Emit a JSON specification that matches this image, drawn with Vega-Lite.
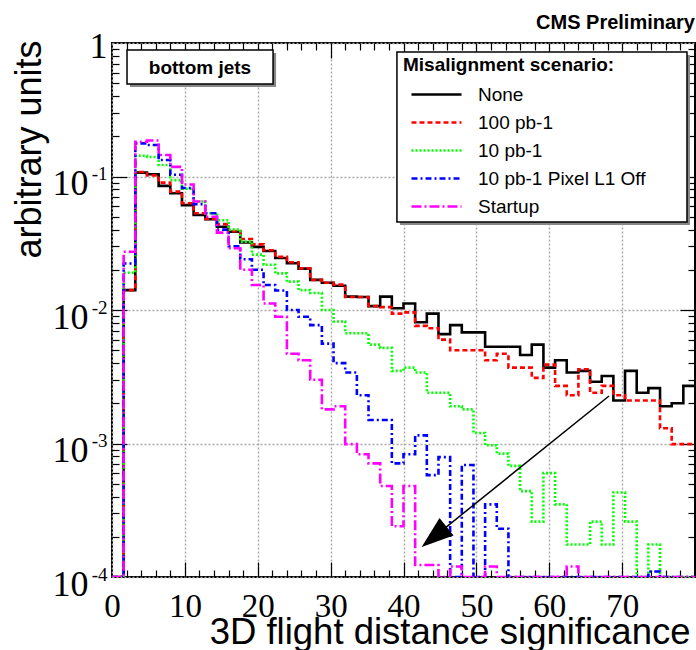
{
"$schema": "https://vega.github.io/schema/vega-lite/v6.json",
"width": 583, "height": 534,
"autosize": {"type": "none"},
"padding": {"left": 112, "top": 43, "right": 1, "bottom": 73},
"background": "white",
"title": {"text": "CMS Preliminary", "anchor": "end", "frame": "group", "orient": "top", "fontSize": 20, "fontWeight": "bold", "font": "Liberation Sans", "color": "black", "baseline": "alphabetic", "offset": 0, "dy": 21},
"config": {"view": {"stroke": "black", "strokeWidth": 2}, "font": "Liberation Sans"},
"data": {"values": [
{"s":"None","x":0,"v":0.0001},{"s":"None","x":1.6,"v":0.0141},{"s":"None","x":3.2,"v":0.107},{"s":"None","x":4.8,"v":0.104},{"s":"None","x":6.4,"v":0.085},{"s":"None","x":8,"v":0.075},{"s":"None","x":9.6,"v":0.061},{"s":"None","x":11.2,"v":0.0515},{"s":"None","x":12.8,"v":0.0478},{"s":"None","x":14.4,"v":0.042},{"s":"None","x":16,"v":0.0386},{"s":"None","x":17.6,"v":0.032},{"s":"None","x":19.2,"v":0.0297},{"s":"None","x":20.8,"v":0.0277},{"s":"None","x":22.4,"v":0.0245},{"s":"None","x":24,"v":0.0224},{"s":"None","x":25.6,"v":0.0204},{"s":"None","x":27.2,"v":0.0168},{"s":"None","x":28.8,"v":0.016},{"s":"None","x":30.4,"v":0.0152},{"s":"None","x":32,"v":0.0126},{"s":"None","x":33.6,"v":0.0125},{"s":"None","x":35.2,"v":0.0107},{"s":"None","x":36.8,"v":0.0126},{"s":"None","x":38.4,"v":0.0103},{"s":"None","x":40,"v":0.0112},{"s":"None","x":41.6,"v":0.0081},{"s":"None","x":43.2,"v":0.0094},{"s":"None","x":44.8,"v":0.0066},{"s":"None","x":46.4,"v":0.0077},{"s":"None","x":48,"v":0.0068},{"s":"None","x":49.6,"v":0.0068},{"s":"None","x":51.2,"v":0.0053},{"s":"None","x":52.8,"v":0.0053},{"s":"None","x":54.4,"v":0.0053},{"s":"None","x":56,"v":0.0046},{"s":"None","x":57.6,"v":0.0055},{"s":"None","x":59.2,"v":0.0037},{"s":"None","x":60.8,"v":0.0042},{"s":"None","x":62.4,"v":0.0034},{"s":"None","x":64,"v":0.0035},{"s":"None","x":65.6,"v":0.0029},{"s":"None","x":67.2,"v":0.0032},{"s":"None","x":68.8,"v":0.0021},{"s":"None","x":70.4,"v":0.0035},{"s":"None","x":72,"v":0.0024},{"s":"None","x":73.6,"v":0.0026},{"s":"None","x":75.2,"v":0.0019},{"s":"None","x":76.8,"v":0.002},{"s":"None","x":78.4,"v":0.0027},{"s":"None","x":80,"v":0.0027},
{"s":"100 pb-1","x":0,"v":0.0001},{"s":"100 pb-1","x":1.6,"v":0.0141},{"s":"100 pb-1","x":3.2,"v":0.108},{"s":"100 pb-1","x":4.8,"v":0.102},{"s":"100 pb-1","x":6.4,"v":0.09},{"s":"100 pb-1","x":8,"v":0.077},{"s":"100 pb-1","x":9.6,"v":0.063},{"s":"100 pb-1","x":11.2,"v":0.053},{"s":"100 pb-1","x":12.8,"v":0.048},{"s":"100 pb-1","x":14.4,"v":0.044},{"s":"100 pb-1","x":16,"v":0.039},{"s":"100 pb-1","x":17.6,"v":0.034},{"s":"100 pb-1","x":19.2,"v":0.031},{"s":"100 pb-1","x":20.8,"v":0.028},{"s":"100 pb-1","x":22.4,"v":0.025},{"s":"100 pb-1","x":24,"v":0.0228},{"s":"100 pb-1","x":25.6,"v":0.0205},{"s":"100 pb-1","x":27.2,"v":0.0168},{"s":"100 pb-1","x":28.8,"v":0.016},{"s":"100 pb-1","x":30.4,"v":0.0155},{"s":"100 pb-1","x":32,"v":0.0125},{"s":"100 pb-1","x":33.6,"v":0.0125},{"s":"100 pb-1","x":35.2,"v":0.0107},{"s":"100 pb-1","x":36.8,"v":0.0105},{"s":"100 pb-1","x":38.4,"v":0.0094},{"s":"100 pb-1","x":40,"v":0.0096},{"s":"100 pb-1","x":41.6,"v":0.0076},{"s":"100 pb-1","x":43.2,"v":0.0073},{"s":"100 pb-1","x":44.8,"v":0.006},{"s":"100 pb-1","x":46.4,"v":0.005},{"s":"100 pb-1","x":48,"v":0.005},{"s":"100 pb-1","x":49.6,"v":0.005},{"s":"100 pb-1","x":51.2,"v":0.0042},{"s":"100 pb-1","x":52.8,"v":0.0047},{"s":"100 pb-1","x":54.4,"v":0.0037},{"s":"100 pb-1","x":56,"v":0.0037},{"s":"100 pb-1","x":57.6,"v":0.0031},{"s":"100 pb-1","x":59.2,"v":0.0039},{"s":"100 pb-1","x":60.8,"v":0.0027},{"s":"100 pb-1","x":62.4,"v":0.0023},{"s":"100 pb-1","x":64,"v":0.0036},{"s":"100 pb-1","x":65.6,"v":0.0024},{"s":"100 pb-1","x":67.2,"v":0.0027},{"s":"100 pb-1","x":68.8,"v":0.0023},{"s":"100 pb-1","x":70.4,"v":0.0021},{"s":"100 pb-1","x":72,"v":0.0021},{"s":"100 pb-1","x":73.6,"v":0.0021},{"s":"100 pb-1","x":75.2,"v":0.0013},{"s":"100 pb-1","x":76.8,"v":0.00099},{"s":"100 pb-1","x":78.4,"v":0.00099},{"s":"100 pb-1","x":80,"v":0.00099},
{"s":"10 pb-1","x":0,"v":0.0001},{"s":"10 pb-1","x":1.6,"v":0.019},{"s":"10 pb-1","x":3.2,"v":0.143},{"s":"10 pb-1","x":4.8,"v":0.14},{"s":"10 pb-1","x":6.4,"v":0.122},{"s":"10 pb-1","x":8,"v":0.094},{"s":"10 pb-1","x":9.6,"v":0.081},{"s":"10 pb-1","x":11.2,"v":0.065},{"s":"10 pb-1","x":12.8,"v":0.053},{"s":"10 pb-1","x":14.4,"v":0.047},{"s":"10 pb-1","x":16,"v":0.04},{"s":"10 pb-1","x":17.6,"v":0.0325},{"s":"10 pb-1","x":19.2,"v":0.026},{"s":"10 pb-1","x":20.8,"v":0.0218},{"s":"10 pb-1","x":22.4,"v":0.0188},{"s":"10 pb-1","x":24,"v":0.0163},{"s":"10 pb-1","x":25.6,"v":0.0141},{"s":"10 pb-1","x":27.2,"v":0.0134},{"s":"10 pb-1","x":28.8,"v":0.01},{"s":"10 pb-1","x":30.4,"v":0.0082},{"s":"10 pb-1","x":32,"v":0.0067},{"s":"10 pb-1","x":33.6,"v":0.0067},{"s":"10 pb-1","x":35.2,"v":0.0055},{"s":"10 pb-1","x":36.8,"v":0.0052},{"s":"10 pb-1","x":38.4,"v":0.0035},{"s":"10 pb-1","x":40,"v":0.0037},{"s":"10 pb-1","x":41.6,"v":0.0034},{"s":"10 pb-1","x":43.2,"v":0.0024},{"s":"10 pb-1","x":44.8,"v":0.0024},{"s":"10 pb-1","x":46.4,"v":0.0019},{"s":"10 pb-1","x":48,"v":0.0018},{"s":"10 pb-1","x":49.6,"v":0.0012},{"s":"10 pb-1","x":51.2,"v":0.00097},{"s":"10 pb-1","x":52.8,"v":0.00084},{"s":"10 pb-1","x":54.4,"v":0.00068},{"s":"10 pb-1","x":56,"v":0.00044},{"s":"10 pb-1","x":57.6,"v":0.00026},{"s":"10 pb-1","x":59.2,"v":0.0006},{"s":"10 pb-1","x":60.8,"v":0.00035},{"s":"10 pb-1","x":62.4,"v":0.000175},{"s":"10 pb-1","x":64,"v":0.000175},{"s":"10 pb-1","x":65.6,"v":0.00026},{"s":"10 pb-1","x":67.2,"v":0.000175},{"s":"10 pb-1","x":68.8,"v":0.00043},{"s":"10 pb-1","x":70.4,"v":0.00026},{"s":"10 pb-1","x":72,"v":0.0001},{"s":"10 pb-1","x":73.6,"v":0.000175},{"s":"10 pb-1","x":75.2,"v":0.0001},{"s":"10 pb-1","x":76.8,"v":0.0001},{"s":"10 pb-1","x":78.4,"v":0.0001},{"s":"10 pb-1","x":80,"v":0.0001},
{"s":"10 pb-1 Pixel L1 Off","x":0,"v":0.0001},{"s":"10 pb-1 Pixel L1 Off","x":1.6,"v":0.0223},{"s":"10 pb-1 Pixel L1 Off","x":3.2,"v":0.177},{"s":"10 pb-1 Pixel L1 Off","x":4.8,"v":0.172},{"s":"10 pb-1 Pixel L1 Off","x":6.4,"v":0.133},{"s":"10 pb-1 Pixel L1 Off","x":8,"v":0.103},{"s":"10 pb-1 Pixel L1 Off","x":9.6,"v":0.082},{"s":"10 pb-1 Pixel L1 Off","x":11.2,"v":0.062},{"s":"10 pb-1 Pixel L1 Off","x":12.8,"v":0.053},{"s":"10 pb-1 Pixel L1 Off","x":14.4,"v":0.04},{"s":"10 pb-1 Pixel L1 Off","x":16,"v":0.03},{"s":"10 pb-1 Pixel L1 Off","x":17.6,"v":0.024},{"s":"10 pb-1 Pixel L1 Off","x":19.2,"v":0.02},{"s":"10 pb-1 Pixel L1 Off","x":20.8,"v":0.0154},{"s":"10 pb-1 Pixel L1 Off","x":22.4,"v":0.014},{"s":"10 pb-1 Pixel L1 Off","x":24,"v":0.01},{"s":"10 pb-1 Pixel L1 Off","x":25.6,"v":0.0089},{"s":"10 pb-1 Pixel L1 Off","x":27.2,"v":0.0077},{"s":"10 pb-1 Pixel L1 Off","x":28.8,"v":0.0056},{"s":"10 pb-1 Pixel L1 Off","x":30.4,"v":0.004},{"s":"10 pb-1 Pixel L1 Off","x":32,"v":0.0034},{"s":"10 pb-1 Pixel L1 Off","x":33.6,"v":0.0023},{"s":"10 pb-1 Pixel L1 Off","x":35.2,"v":0.0015},{"s":"10 pb-1 Pixel L1 Off","x":36.8,"v":0.0015},{"s":"10 pb-1 Pixel L1 Off","x":38.4,"v":0.00071},{"s":"10 pb-1 Pixel L1 Off","x":40,"v":0.00083},{"s":"10 pb-1 Pixel L1 Off","x":41.6,"v":0.00115},{"s":"10 pb-1 Pixel L1 Off","x":43.2,"v":0.00058},{"s":"10 pb-1 Pixel L1 Off","x":44.8,"v":0.00079},{"s":"10 pb-1 Pixel L1 Off","x":46.4,"v":0.0001},{"s":"10 pb-1 Pixel L1 Off","x":48,"v":0.00069},{"s":"10 pb-1 Pixel L1 Off","x":49.6,"v":0.0001},{"s":"10 pb-1 Pixel L1 Off","x":51.2,"v":0.00035},{"s":"10 pb-1 Pixel L1 Off","x":52.8,"v":0.00023},{"s":"10 pb-1 Pixel L1 Off","x":54.4,"v":0.0001},{"s":"10 pb-1 Pixel L1 Off","x":56,"v":0.0001},{"s":"10 pb-1 Pixel L1 Off","x":57.6,"v":0.0001},{"s":"10 pb-1 Pixel L1 Off","x":59.2,"v":0.0001},{"s":"10 pb-1 Pixel L1 Off","x":60.8,"v":0.0001},{"s":"10 pb-1 Pixel L1 Off","x":62.4,"v":0.0001},{"s":"10 pb-1 Pixel L1 Off","x":64,"v":0.0001},{"s":"10 pb-1 Pixel L1 Off","x":65.6,"v":0.0001},{"s":"10 pb-1 Pixel L1 Off","x":67.2,"v":0.0001},{"s":"10 pb-1 Pixel L1 Off","x":68.8,"v":0.0001},{"s":"10 pb-1 Pixel L1 Off","x":70.4,"v":0.0001},{"s":"10 pb-1 Pixel L1 Off","x":72,"v":0.0001},{"s":"10 pb-1 Pixel L1 Off","x":73.6,"v":0.00011},{"s":"10 pb-1 Pixel L1 Off","x":75.2,"v":0.0001},{"s":"10 pb-1 Pixel L1 Off","x":76.8,"v":0.0001},{"s":"10 pb-1 Pixel L1 Off","x":78.4,"v":0.0001},{"s":"10 pb-1 Pixel L1 Off","x":80,"v":0.0001},
{"s":"Startup","x":0,"v":0.0001},{"s":"Startup","x":1.6,"v":0.0273},{"s":"Startup","x":3.2,"v":0.182},{"s":"Startup","x":4.8,"v":0.186},{"s":"Startup","x":6.4,"v":0.145},{"s":"Startup","x":8,"v":0.118},{"s":"Startup","x":9.6,"v":0.087},{"s":"Startup","x":11.2,"v":0.065},{"s":"Startup","x":12.8,"v":0.05},{"s":"Startup","x":14.4,"v":0.038},{"s":"Startup","x":16,"v":0.029},{"s":"Startup","x":17.6,"v":0.02},{"s":"Startup","x":19.2,"v":0.0154},{"s":"Startup","x":20.8,"v":0.0112},{"s":"Startup","x":22.4,"v":0.0089},{"s":"Startup","x":24,"v":0.0047},{"s":"Startup","x":25.6,"v":0.0042},{"s":"Startup","x":27.2,"v":0.003},{"s":"Startup","x":28.8,"v":0.0018},{"s":"Startup","x":30.4,"v":0.0019},{"s":"Startup","x":32,"v":0.00099},{"s":"Startup","x":33.6,"v":0.00083},{"s":"Startup","x":35.2,"v":0.00071},{"s":"Startup","x":36.8,"v":0.00048},{"s":"Startup","x":38.4,"v":0.00024},{"s":"Startup","x":40,"v":0.00048},{"s":"Startup","x":41.6,"v":0.000123},{"s":"Startup","x":43.2,"v":0.000123},{"s":"Startup","x":44.8,"v":0.0001},{"s":"Startup","x":46.4,"v":0.00012},{"s":"Startup","x":48,"v":0.0001},{"s":"Startup","x":49.6,"v":0.0001},{"s":"Startup","x":51.2,"v":0.00012},{"s":"Startup","x":52.8,"v":0.0001},{"s":"Startup","x":54.4,"v":0.0001},{"s":"Startup","x":56,"v":0.0001},{"s":"Startup","x":57.6,"v":0.0001},{"s":"Startup","x":59.2,"v":0.0001},{"s":"Startup","x":60.8,"v":0.0001},{"s":"Startup","x":62.4,"v":0.00012},{"s":"Startup","x":64,"v":0.0001},{"s":"Startup","x":65.6,"v":0.0001},{"s":"Startup","x":67.2,"v":0.0001},{"s":"Startup","x":68.8,"v":0.0001},{"s":"Startup","x":70.4,"v":0.0001},{"s":"Startup","x":72,"v":0.0001},{"s":"Startup","x":73.6,"v":0.0001},{"s":"Startup","x":75.2,"v":0.0001},{"s":"Startup","x":76.8,"v":0.0001},{"s":"Startup","x":78.4,"v":0.0001},{"s":"Startup","x":80,"v":0.0001}
]},
"resolve": {"axis": {"x": "independent", "y": "independent"}},
"layer": [
{
"mark": {"type": "line", "interpolate": "step-after", "strokeWidth": 2.6, "clip": true},
"encoding": {
"x": {"field": "x", "type": "quantitative", "scale": {"domain": [0, 80], "nice": false, "zero": false},
 "axis": {"orient": "bottom", "values": [0,10,20,30,40,50,60,70], "ticks": false, "tickSize": 0, "domain": false, "grid": true, "gridColor": "#aaaaaa", "gridDash": [2,2], "gridWidth": 1.5, "labelFont": "Liberation Sans Narrow", "labelFontSize": 33, "labelColor": "black", "labelBaseline": "alphabetic", "labelPadding": 39, "labelFlush": false, "labelOverlap": false, "title": "3D flight distance significance", "titleFont": "Liberation Sans", "titleFontSize": 36.5, "titleFontWeight": "normal", "titleColor": "black", "titleAlign": "right", "titleAnchor": "end", "titleBaseline": "alphabetic", "titleX": 578, "titleY": 66}},
"y": {"field": "v", "type": "quantitative", "scale": {"type": "log", "domain": [0.0001, 1], "nice": false},
 "axis": {"orient": "left", "values": [0.0001,0.001,0.01,0.1,1], "ticks": false, "tickSize": 0, "domain": false, "grid": true, "gridColor": "#aaaaaa", "gridDash": [2,2], "gridWidth": 1.5, "labelExpr": "datum.value >= 1 ? '' : '10'", "labelFont": "Liberation Sans Narrow", "labelFontSize": 36, "labelColor": "black", "labelBaseline": "middle", "labelAlign": "right", "labelPadding": 24, "labelOffset": 7, "labelFlush": false, "labelOverlap": false, "title": "arbitrary units", "titleFont": "Liberation Sans", "titleFontSize": 36, "titleFontWeight": "normal", "titleColor": "black", "titleAngle": -90, "titleAlign": "right", "titleBaseline": "alphabetic", "titleX": -72, "titleY": -3}},
"color": {"field": "s", "type": "nominal", "scale": {"domain": ["None","100 pb-1","10 pb-1","10 pb-1 Pixel L1 Off","Startup"], "range": ["#000000","#ff0000","#00ff00","#0000ff","#ff00ff"]},
 "legend": {"orient": "none", "legendX": 291, "legendY": 13, "title": "Misalignment scenario:", "titleFont": "Liberation Sans", "titleFontSize": 19, "titleFontWeight": "bold", "titleColor": "black", "titlePadding": 10, "titleLimit": 600, "labelLimit": 600, "labelFont": "Liberation Sans", "labelFontSize": 19, "labelColor": "black", "labelOffset": 52, "symbolType": "M-1,0H9", "symbolSize": 100, "symbolStrokeWidth": 2.5, "symbolOffset": 4, "rowPadding": 8, "padding": 0}},
"strokeDash": {"field": "s", "type": "nominal", "scale": {"domain": ["None","100 pb-1","10 pb-1","10 pb-1 Pixel L1 Off","Startup"], "range": [[1,0],[5,3],[2,2],[6,3,2,3],[10,3,2,3]]},
 "legend": {"orient": "none", "legendX": 291, "legendY": 13, "title": "Misalignment scenario:", "titleFont": "Liberation Sans", "titleFontSize": 19, "titleFontWeight": "bold", "titleColor": "black", "titlePadding": 10, "titleLimit": 600, "labelLimit": 600, "labelFont": "Liberation Sans", "labelFontSize": 19, "labelColor": "black", "labelOffset": 52, "symbolType": "M-1,0H9", "symbolSize": 100, "symbolStrokeWidth": 2.5, "symbolOffset": 4, "rowPadding": 8, "padding": 0}}
}
},
{
"data": {"values": [{}]},
"mark": {"type": "rect", "fill": "#888888", "xOffset": 3, "x2Offset": 3, "yOffset": 3, "y2Offset": 3},
"encoding": {
"x": {"datum": 39.1, "type": "quantitative", "axis": {"orient": "bottom", "values": [2,4,6,8,12,14,16,18,22,24,26,28,32,34,36,38,42,44,46,48,52,54,56,58,62,64,66,68,72,74,76,78], "labels": false, "domain": false, "grid": false, "ticks": true, "tickSize": -7, "tickColor": "black", "tickWidth": 1.2, "title": null}},
"x2": {"datum": 78.9},
"y": {"datum": 0.856, "type": "quantitative", "axis": {"orient": "left", "values": [0.0002,0.0003,0.0004,0.0005,0.0006,0.0007,0.0008,0.0009,0.002,0.003,0.004,0.005,0.006,0.007,0.008,0.009,0.02,0.03,0.04,0.05,0.06,0.07,0.08,0.09,0.2,0.3,0.4,0.5,0.6,0.7,0.8,0.9], "labels": false, "domain": false, "grid": false, "ticks": true, "tickSize": -7, "tickColor": "black", "tickWidth": 1.2, "title": null}},
"y2": {"datum": 0.0456}
}
},
{
"data": {"values": [{}]},
"mark": {"type": "rect", "fill": "white", "stroke": "black", "strokeWidth": 1.5},
"encoding": {
"x": {"datum": 39.1, "type": "quantitative", "axis": {"orient": "bottom", "values": [10,20,30,40,50,60,70], "labels": false, "domain": false, "grid": false, "ticks": true, "tickSize": -15, "tickColor": "black", "tickWidth": 1.2, "title": null}},
"x2": {"datum": 78.9},
"y": {"datum": 0.856, "type": "quantitative", "axis": {"orient": "left", "values": [0.001,0.01,0.1], "labels": false, "domain": false, "grid": false, "ticks": true, "tickSize": -15, "tickColor": "black", "tickWidth": 1.2, "title": null}},
"y2": {"datum": 0.0456}
}
},
{
"data": {"values": [{}]},
"mark": {"type": "rect", "fill": "#888888", "xOffset": 3, "x2Offset": 3, "yOffset": 3, "y2Offset": 3},
"encoding": {
"x": {"datum": 2.06, "type": "quantitative", "axis": {"orient": "top", "values": [2,4,6,8,12,14,16,18,22,24,26,28,32,34,36,38,42,44,46,48,52,54,56,58,62,64,66,68,72,74,76,78], "labels": false, "domain": false, "grid": false, "ticks": true, "tickSize": -7, "tickColor": "black", "tickWidth": 1.2, "title": null}},
"x2": {"datum": 22.1},
"y": {"datum": 0.886, "type": "quantitative", "axis": {"orient": "right", "values": [0.0002,0.0003,0.0004,0.0005,0.0006,0.0007,0.0008,0.0009,0.002,0.003,0.004,0.005,0.006,0.007,0.008,0.009,0.02,0.03,0.04,0.05,0.06,0.07,0.08,0.09,0.2,0.3,0.4,0.5,0.6,0.7,0.8,0.9], "labels": false, "domain": false, "grid": false, "ticks": true, "tickSize": -7, "tickColor": "black", "tickWidth": 1.2, "title": null}},
"y2": {"datum": 0.493}
}
},
{
"data": {"values": [{}]},
"mark": {"type": "rect", "fill": "white", "stroke": "black", "strokeWidth": 1.5},
"encoding": {
"x": {"datum": 2.06, "type": "quantitative", "axis": {"orient": "top", "values": [10,20,30,40,50,60,70], "labels": false, "domain": false, "grid": false, "ticks": true, "tickSize": -15, "tickColor": "black", "tickWidth": 1.2, "title": null}},
"x2": {"datum": 22.1},
"y": {"datum": 0.886, "type": "quantitative", "axis": {"orient": "right", "values": [0.001,0.01,0.1], "labels": false, "domain": false, "grid": false, "ticks": true, "tickSize": -15, "tickColor": "black", "tickWidth": 1.2, "title": null}},
"y2": {"datum": 0.493}
}
},
{
"data": {"values": [{}]},
"mark": {"type": "text", "text": "bottom jets", "font": "Liberation Sans", "fontSize": 19, "fontWeight": "bold", "color": "black", "align": "center", "baseline": "middle"},
"encoding": {
"x": {"datum": 12.07, "type": "quantitative", "axis": null},
"y": {"datum": 0.65, "type": "quantitative", "axis": {"orient": "left", "values": [0.0001,0.001,0.01,0.1,1], "ticks": false, "tickSize": 0, "domain": false, "grid": false, "title": null, "labelExpr": "datum.value >= 1 ? '1' : '-' + round(-log(datum.value)/LN10)", "labelFont": "Liberation Sans Narrow", "labelFontSize": {"condition": {"test": "datum.value >= 1", "value": 36}, "value": 19}, "labelBaseline": {"condition": {"test": "datum.value >= 1", "value": "middle"}, "value": "alphabetic"}, "labelAlign": "right", "labelColor": "black", "labelPadding": 5, "labelOffset": 3, "labelFlush": false, "labelOverlap": false}}
}
},
{
"data": {"values": [{}]},
"mark": {"type": "rule", "color": "black", "strokeWidth": 1.5},
"encoding": {
"x": {"datum": 68.2, "type": "quantitative", "axis": null},
"x2": {"datum": 44.2},
"y": {"datum": 0.00227, "type": "quantitative", "axis": null},
"y2": {"datum": 0.0002}
}
},
{
"data": {"values": [{}]},
"mark": {"type": "point", "shape": "M0,-1L-0.7,1L0.7,1Z", "filled": true, "color": "black", "opacity": 1, "size": 1024, "angle": 231},
"encoding": {
"x": {"datum": 44.2, "type": "quantitative", "axis": null},
"y": {"datum": 0.0002, "type": "quantitative", "axis": null}
}
}
]
}
